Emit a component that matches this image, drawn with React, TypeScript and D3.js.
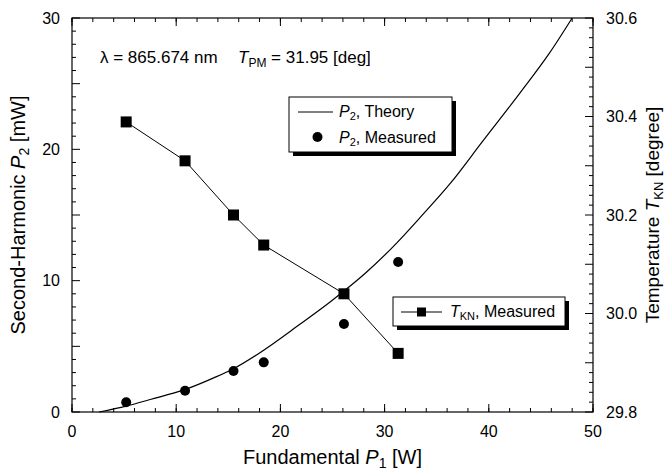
import * as d3 from "d3";

// measured points (x in W)
const p1Measured = [5.2, 10.85, 15.5, 18.4, 26.1, 31.3];
const p2Measured = [0.74, 1.62, 3.12, 3.78, 6.7, 11.42];
const tknMeasured = [30.389, 30.31, 30.2, 30.139, 30.04, 29.919];

// theory curve
const theoryP1 = [2.6, 5.2, 7.5, 10.8, 13.6, 15.5, 18.0, 21.9, 24.8, 28.2, 31.2, 33.4, 36.3, 39.4, 43.0, 45.8, 48.0];
const theoryP2 = [0, 0.45, 0.95, 1.7, 2.6, 3.3, 4.5, 6.7, 8.4, 10.6, 12.9, 14.8, 17.4, 20.6, 24.3, 27.3, 30];

const xTickLabels = [0, 10, 20, 30, 40, 50];
const leftTickLabels = [0, 10, 20, 30];
const rightTickLabels = [29.8, 30.0, 30.2, 30.4, 30.6];

const W = 666;
const H = 470;
const M = { left: 72, right: 73, top: 18, bottom: 58 };
const FONT = "'Liberation Sans', Arial, Helvetica, sans-serif";

export default function App() {
  const x = d3.scaleLinear().domain([0, 50]).range([M.left, W - M.right]);
  const yL = d3.scaleLinear().domain([0, 30]).range([H - M.bottom, M.top]);
  const yR = d3.scaleLinear().domain([29.8, 30.6]).range([H - M.bottom, M.top]);
  const x0 = M.left, x1 = W - M.right, y0 = H - M.bottom, y1 = M.top;

  const theoryLine = d3
    .line<number>()
    .x((d) => x(d))
    .y((_, i) => yL(theoryP2[i]))
    .curve(d3.curveMonotoneX);

  const tknLine = d3
    .line<number>()
    .x((d) => x(d))
    .y((_, i) => yR(tknMeasured[i]));

  const xMinor = d3.range(0, 50.001, 2);
  const xMajor = d3.range(0, 50.001, 10);
  const lMinor = d3.range(0, 30.001, 1);
  const rMinor = d3.range(0, 40.5, 1).map((i) => 29.8 + i * 0.02);

  return (
    <svg width={W} height={H} style={{ position: "absolute", left: 0, top: 0, background: "#fff" }} fontFamily={FONT}>
      {/* x ticks bottom & top */}
      <g stroke="#000" strokeWidth={1}>
        {xMinor.map((v) => (
          <g key={"x" + v}>
            <line x1={x(v)} x2={x(v)} y1={y0} y2={y0 - 4} />
            <line x1={x(v)} x2={x(v)} y1={y1} y2={y1 + 4} />
          </g>
        ))}
        {xMajor.map((v) => (
          <g key={"X" + v}>
            <line x1={x(v)} x2={x(v)} y1={y0} y2={y0 - 8} />
            <line x1={x(v)} x2={x(v)} y1={y1} y2={y1 + 8} />
          </g>
        ))}
        {lMinor.map((v) => (
          <line key={"l" + v} x1={x0} x2={x0 + (v % 5 === 0 ? 8 : 4)} y1={yL(v)} y2={yL(v)} />
        ))}
        {rMinor.map((v, i) => (
          <line key={"r" + i} x1={x1} x2={x1 - (i % 5 === 0 ? 8 : 4)} y1={yR(v)} y2={yR(v)} />
        ))}
      </g>
      <rect x={x0} y={y1} width={x1 - x0} height={y0 - y1} fill="none" stroke="#000" strokeWidth={1.2} />

      {/* tick labels */}
      <g fontSize={16} fill="#000">
        {xTickLabels.map((v) => (
          <text key={"xt" + v} x={x(v)} y={y0 + 25} textAnchor="middle">{v}</text>
        ))}
        {leftTickLabels.map((v) => (
          <text key={"lt" + v} x={x0 - 12} y={yL(v)} dy="0.35em" textAnchor="end">{v}</text>
        ))}
        {rightTickLabels.map((v) => (
          <text key={"rt" + v} x={x1 + 13} y={yR(v)} dy="0.35em" textAnchor="start">{v.toFixed(1)}</text>
        ))}
      </g>

      {/* axis titles */}
      <text x={(x0 + x1) / 2} y={464} textAnchor="middle" fontSize={20}>
        Fundamental <tspan fontStyle="italic">P</tspan><tspan fontSize={14} dy={4}>1</tspan><tspan dy={-4}> [W]</tspan>
      </text>
      <text transform={`translate(25,${(y0 + y1) / 2}) rotate(-90)`} textAnchor="middle" fontSize={20}>
        Second-Harmonic <tspan fontStyle="italic">P</tspan><tspan fontSize={14} dy={4}>2</tspan><tspan dy={-4}> [mW]</tspan>
      </text>
      <text transform={`translate(659,${(y0 + y1) / 2}) rotate(-90)`} textAnchor="middle" fontSize={19}>
        Temperature <tspan fontStyle="italic">T</tspan><tspan fontSize={13} dy={4}>KN</tspan><tspan dy={-4}> [degree]</tspan>
      </text>

      {/* annotation */}
      <text x={100} y={63} fontSize={17}>λ = 865.674 nm</text>
      <text x={238} y={63} fontSize={17}>
        <tspan fontStyle="italic">T</tspan><tspan fontSize={12} dy={4}>PM</tspan><tspan dy={-4}> = 31.95 [deg]</tspan>
      </text>

      {/* theory curve */}
      <path d={theoryLine(theoryP1) ?? ""} fill="none" stroke="#000" strokeWidth={1.2} />

      {/* measured P2 */}
      {p1Measured.map((v, i) => (
        <circle key={"c" + i} cx={x(v)} cy={yL(p2Measured[i])} r={5} fill="#000" />
      ))}

      {/* T_KN */}
      <path d={tknLine(p1Measured) ?? ""} fill="none" stroke="#000" strokeWidth={1} />
      {p1Measured.map((v, i) => (
        <rect key={"s" + i} x={x(v) - 5.5} y={yR(tknMeasured[i]) - 5.5} width={11} height={11} fill="#000" />
      ))}

      {/* legend 1 */}
      <rect x={293} y={101} width={163} height={55} fill="#000" />
      <rect x={289} y={97} width={163} height={55} fill="#fff" stroke="#000" strokeWidth={1} />
      <line x1={298} x2={333} y1={112} y2={112} stroke="#000" strokeWidth={1} />
      <text x={339} y={117} fontSize={16}>
        <tspan fontStyle="italic">P</tspan><tspan fontSize={11} dy={3}>2</tspan><tspan dy={-3}>, Theory</tspan>
      </text>
      <circle cx={317.5} cy={137} r={5} fill="#000" />
      <text x={339} y={143} fontSize={16}>
        <tspan fontStyle="italic">P</tspan><tspan fontSize={11} dy={3}>2</tspan><tspan dy={-3}>, Measured</tspan>
      </text>

      {/* legend 2 */}
      <rect x={397} y={301} width={172} height={29} fill="#000" />
      <rect x={393} y={297} width={172} height={29} fill="#fff" stroke="#000" strokeWidth={1} />
      <line x1={401} x2={442} y1={312} y2={312} stroke="#000" strokeWidth={1} />
      <rect x={417} y={307.5} width={9} height={9} fill="#000" />
      <text x={450} y={317} fontSize={16}>
        <tspan fontStyle="italic">T</tspan><tspan fontSize={11} dy={3}>KN</tspan><tspan dy={-3}>, Measured</tspan>
      </text>
    </svg>
  );
}
